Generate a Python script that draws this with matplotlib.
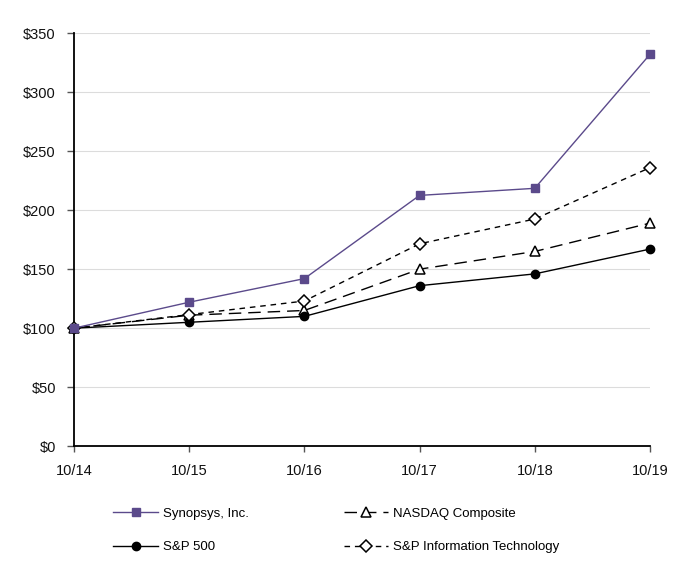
import matplotlib.pyplot as plt
import numpy as np

plt.rcParams['font.family'] = ['Liberation Sans', 'DejaVu Sans']

periods = ['10/14', '10/15', '10/16', '10/17', '10/18', '10/19']
synopsys = [100, 122, 142, 212.5, 218.5, 332]
nasdaq = [100, 111, 115, 150, 165, 189]
sp500 = [100, 105, 110, 136, 146, 167]
sp_it = [100, 111.5, 123, 171.5, 192.5, 236]

purple = '#5b4a8b'

fig = plt.figure(figsize=(6.82, 5.81), dpi=100)
ax = fig.add_axes([0.1085, 0.232, 0.8445, 0.711])

x = np.arange(len(periods))

l1, = ax.plot(x, synopsys, color=purple, lw=1.0, marker='s', ms=5.5,
              mfc=purple, mec=purple, label='Synopsys, Inc.', zorder=5,
              clip_on=False)
l2, = ax.plot(x, nasdaq, color='black', lw=1.0, dashes=(9, 5), marker='^',
              ms=6.5, mfc='white', mec='black', mew=1.1,
              label='NASDAQ Composite', zorder=4, clip_on=False)
l3, = ax.plot(x, sp500, color='black', lw=1.0, marker='o', ms=6,
              mfc='black', mec='black', label='S&P 500', zorder=4,
              clip_on=False)
l4, = ax.plot(x, sp_it, color='black', lw=1.0, dashes=(4, 3.5), marker='D',
              ms=6, mfc='white', mec='black', mew=1.1,
              label='S&P Information Technology', zorder=4, clip_on=False)

ax.set_xlim(0, len(periods) - 1)
ax.set_ylim(0, 350)
ax.set_xticks(x)
ax.set_xticklabels(periods)
ax.set_yticks(np.arange(0, 351, 50))
ax.set_yticklabels(['${}'.format(v) for v in range(0, 351, 50)])

ax.yaxis.grid(True, color='#dcdcdc', lw=0.8)
ax.set_axisbelow(True)
for side in ['top', 'right']:
    ax.spines[side].set_visible(False)
for side in ['left', 'bottom']:
    ax.spines[side].set_linewidth(1.3)
ax.tick_params(axis='both', labelsize=10.5, direction='out', width=1.0,
               color='#555555', labelcolor='#111111')
ax.tick_params(axis='x', length=4, pad=9)
ax.tick_params(axis='y', length=5, pad=8)

fig.legend([l1, l3, l2, l4],
           ['Synopsys, Inc.', 'S&P 500', 'NASDAQ Composite',
            'S&P Information Technology'],
           loc='center', bbox_to_anchor=(0.493, 0.087), ncol=2,
           frameon=False, fontsize=9.5, columnspacing=7.2,
           handlelength=3.4, labelspacing=1.6, handletextpad=0.35)

fig.savefig('out.png', dpi=100)
